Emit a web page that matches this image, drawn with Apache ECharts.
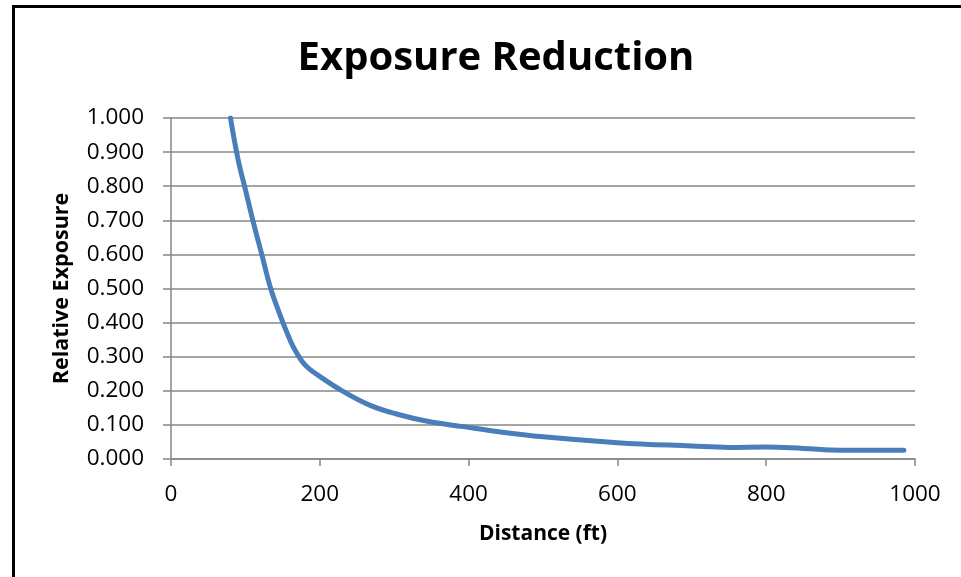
<!DOCTYPE html>
<html><head><meta charset="utf-8">
<script src="https://cdn.jsdelivr.net/npm/echarts@6/dist/echarts.min.js"></script>
<style>html,body{margin:0;padding:0;background:#fff;}#c{width:961px;height:577px;}</style>
</head><body><div id="c"></div>
<script>
const distances = [80, 90, 100, 110, 122, 134, 147, 156, 164, 172, 178, 185, 196, 230, 267, 303, 348, 393, 430, 500, 600, 700, 750, 800, 850, 900, 985];
const exposure  = [1.0, 0.88, 0.79, 0.70, 0.60, 0.50, 0.42, 0.37, 0.33, 0.30, 0.281, 0.266, 0.248, 0.20, 0.158, 0.132, 0.109, 0.095, 0.083, 0.065, 0.048, 0.038, 0.034, 0.035, 0.031, 0.026, 0.026];
const xTicks = [0, 200, 400, 600, 800, 1000];
const yTicks = [0, 0.1, 0.2, 0.3, 0.4, 0.5, 0.6, 0.7, 0.8, 0.9, 1.0];
const titleText = 'Exposure Reduction';
const xName = 'Distance (ft)';
const yName = 'Relative Exposure';

const chart = echarts.init(document.getElementById('c'));
const font = '"Open Sans", sans-serif';
const gray = '#868686';
chart.setOption({
  animation: false,
  title: { text: titleText, left: 491, top: 34, textAlign: 'center',
    textStyle: { fontFamily: font, fontWeight: 'bold', fontSize: 40, color: '#000' } },
  graphic: [{ type: 'rect', shape: { x: 13.5, y: 6.5, width: 1200, height: 1200 }, silent: true,
    style: { fill: 'none', stroke: '#000', lineWidth: 3 } }],
  grid: { left: 171, right: 46, top: 118, bottom: 118, containLabel: false },
  xAxis: { type: 'value', min: xTicks[0], max: xTicks[xTicks.length - 1], interval: 200,
    name: xName, nameLocation: 'middle', nameGap: 65,
    nameTextStyle: { fontFamily: font, fontWeight: 'bold', fontSize: 21, color: '#000' },
    axisLine: { show: true, lineStyle: { color: gray, width: 1.5 } },
    axisTick: { show: true, length: 7, inside: false, lineStyle: { color: gray, width: 1.5 } },
    axisLabel: { fontFamily: font, fontSize: 22.5, color: '#000', margin: 24, formatter: v => String(v) },
    splitLine: { show: false } },
  yAxis: { type: 'value', min: 0, max: 1, interval: 0.1,
    name: yName, nameLocation: 'middle', nameGap: 98, nameRotate: 90,
    nameTextStyle: { fontFamily: font, fontWeight: 'bold', fontSize: 21.5, color: '#000' },
    axisLine: { show: true, lineStyle: { color: gray, width: 1.5 } },
    axisTick: { show: true, length: 8, lineStyle: { color: gray, width: 1.5 } },
    axisLabel: { fontFamily: font, fontSize: 22.5, color: '#000', margin: 27,
      formatter: v => v.toFixed(3) },
    splitLine: { show: true, lineStyle: { color: gray, width: 1.5 } } },
  series: [{ type: 'line', smooth: 0.4, showSymbol: false,
    data: distances.map((d, i) => [d, exposure[i]]),
    lineStyle: { color: '#4a7ebb', width: 5, cap: 'round', join: 'round' } }]
});
</script></body></html>
